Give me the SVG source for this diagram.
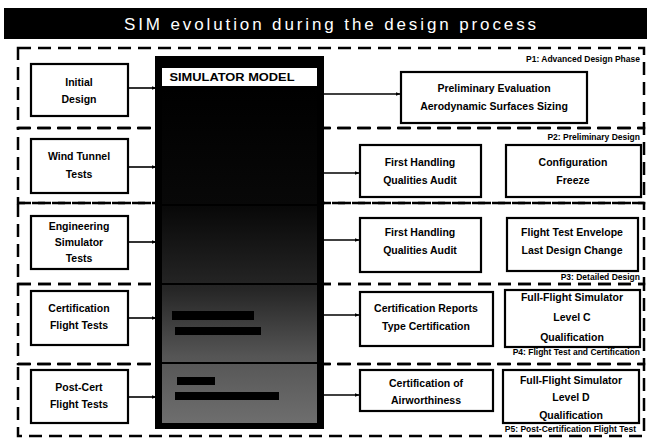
<svg xmlns="http://www.w3.org/2000/svg" width="651" height="438" viewBox="0 0 651 438">
<defs>
<marker id="ah" viewBox="0 0 10 10" refX="9" refY="5" markerWidth="5" markerHeight="5" orient="auto" markerUnits="userSpaceOnUse">
<path d="M0,1 L10,5 L0,9 Z" fill="#000"/>
</marker>
<linearGradient id="simg" x1="0" y1="0" x2="0" y2="1">
<stop offset="0" stop-color="#000"/>
<stop offset="0.35" stop-color="#080808"/>
<stop offset="0.6" stop-color="#262626"/>
<stop offset="0.8" stop-color="#555"/>
<stop offset="1" stop-color="#6e6e6e"/>
</linearGradient>
</defs>
<style>
.box{fill:#fff;stroke:#000;stroke-width:2.2}
.phase{fill:none;stroke:#000;stroke-width:2.5;stroke-dasharray:13 7}
.t{font-family:"Liberation Sans",Arial,sans-serif;font-weight:bold;font-size:10.5px;fill:#000;text-anchor:middle}
.pl{font-family:"Liberation Sans",Arial,sans-serif;font-weight:bold;font-size:8.5px;fill:#000;text-anchor:end}
.c{stroke:#000;stroke-width:1.6;fill:none}
</style>
<rect width="651" height="438" fill="#fff"/>

<g id="title">
<rect x="4" y="8" width="643" height="31" fill="#000"/>
<text x="330" y="30" font-family="'Liberation Sans',Arial,sans-serif" font-size="17" fill="#fff" text-anchor="middle" textLength="412" lengthAdjust="spacing">SIM evolution during the design process</text>
</g>

<g id="phases">
<g id="p1"><rect class="phase" x="18" y="48" width="626" height="80"/><text class="pl" x="640" y="62">P1: Advanced Design Phase</text></g>
<g id="p2"><rect class="phase" x="18" y="128" width="626" height="75"/><text class="pl" x="640" y="140">P2: Preliminary Design</text></g>
<g id="p3"><rect class="phase" x="18" y="203" width="626" height="81"/><text class="pl" x="640" y="280">P3: Detailed Design</text></g>
<g id="p4"><rect class="phase" x="18" y="284" width="626" height="80"/><text class="pl" x="640" y="355">P4: Flight Test and Certification</text></g>
<g id="p5"><rect class="phase" x="18" y="364" width="626" height="72"/><text class="pl" x="636" y="432">P5: Post-Certification Flight Test</text></g>
</g>

<g id="sim">
<rect x="157" y="58" width="165" height="369" fill="#000" stroke="#000" stroke-width="4"/>
<rect x="162" y="68" width="155" height="18" fill="#fff"/>
<text x="232" y="81" font-family="'Liberation Sans',Arial,sans-serif" font-weight="bold" font-size="10.5" fill="#000" text-anchor="middle" textLength="125" lengthAdjust="spacingAndGlyphs">SIMULATOR MODEL</text>
<rect x="162" y="89" width="155" height="334" fill="url(#simg)"/>
<g stroke="#000" stroke-width="2">
<line x1="157" y1="205" x2="322" y2="205"/>
<line x1="157" y1="284" x2="322" y2="284"/>
<line x1="157" y1="363" x2="322" y2="363"/>
</g>
<g fill="#000">
<rect x="172" y="311" width="82" height="9"/>
<rect x="175" y="327" width="86" height="8"/>
<rect x="177" y="377" width="38" height="8"/>
<rect x="175" y="392" width="104" height="8"/>
</g>
</g>

<g id="initial"><rect class="box" x="31" y="64" width="97" height="52"/><text class="t" x="79" y="86">Initial</text><text class="t" x="79" y="103">Design</text></g>
<g id="wind"><rect class="box" x="31" y="139" width="97" height="54"/><text class="t" x="79" y="160">Wind Tunnel</text><text class="t" x="79" y="178">Tests</text></g>
<g id="engsim"><rect class="box" x="31" y="216" width="97" height="53"/><text class="t" x="79" y="230">Engineering</text><text class="t" x="79" y="246">Simulator</text><text class="t" x="79" y="262">Tests</text></g>
<g id="certflight"><rect class="box" x="31" y="291" width="97" height="54"/><text class="t" x="79" y="312">Certification</text><text class="t" x="79" y="329">Flight Tests</text></g>
<g id="postcert"><rect class="box" x="31" y="370" width="97" height="53"/><text class="t" x="79" y="391">Post-Cert</text><text class="t" x="79" y="408">Flight Tests</text></g>

<g id="prelim"><rect class="box" x="401" y="72" width="186" height="51"/><text class="t" x="494" y="92">Preliminary Evaluation</text><text class="t" x="494" y="110">Aerodynamic Surfaces Sizing</text></g>
<g id="fhqa1"><rect class="box" x="360" y="145" width="121" height="52"/><text class="t" x="420" y="166">First Handling</text><text class="t" x="420" y="184">Qualities Audit</text></g>
<g id="freeze"><rect class="box" x="506" y="145" width="135" height="52"/><text class="t" x="573" y="166">Configuration</text><text class="t" x="573" y="184">Freeze</text></g>
<g id="fhqa2"><rect class="box" x="360" y="218" width="121" height="54"/><text class="t" x="420" y="236">First Handling</text><text class="t" x="420" y="254">Qualities Audit</text></g>
<g id="envelope"><rect class="box" x="507" y="218" width="131" height="53"/><text class="t" x="572" y="236">Flight Test Envelope</text><text class="t" x="572" y="254">Last Design Change</text></g>
<g id="certrep"><rect class="box" x="360" y="292" width="133" height="54"/><text class="t" x="426" y="312">Certification Reports</text><text class="t" x="426" y="330">Type Certification</text></g>
<g id="levelc"><rect class="box" x="505" y="290" width="135" height="57"/><text class="t" x="572" y="301">Full-Flight Simulator</text><text class="t" x="572" y="321">Level C</text><text class="t" x="572" y="341">Qualification</text></g>
<g id="airworth"><rect class="box" x="360" y="370" width="133" height="41"/><text class="t" x="426" y="387">Certification of</text><text class="t" x="426" y="404">Airworthiness</text></g>
<g id="leveld"><rect class="box" x="503" y="370" width="136" height="53"/><text class="t" x="571" y="384">Full-Flight Simulator</text><text class="t" x="571" y="401">Level D</text><text class="t" x="571" y="419">Qualification</text></g>

<g id="connectors">
<line class="c" x1="128" y1="88" x2="156" y2="88" marker-end="url(#ah)"/>
<line class="c" x1="128" y1="167" x2="156" y2="167" marker-end="url(#ah)"/>
<line class="c" x1="128" y1="242" x2="156" y2="242" marker-end="url(#ah)"/>
<line class="c" x1="128" y1="318" x2="156" y2="318" marker-end="url(#ah)"/>
<line class="c" x1="128" y1="397" x2="156" y2="397" marker-end="url(#ah)"/>
<line class="c" x1="322" y1="94" x2="400" y2="94" marker-end="url(#ah)"/>
<line class="c" x1="322" y1="173" x2="359" y2="173" marker-end="url(#ah)"/>
<line class="c" x1="322" y1="240" x2="359" y2="240" marker-end="url(#ah)"/>
<line class="c" x1="322" y1="315" x2="359" y2="315" marker-end="url(#ah)"/>
<line class="c" x1="322" y1="395" x2="359" y2="395" marker-end="url(#ah)"/>
</g>
</svg>
